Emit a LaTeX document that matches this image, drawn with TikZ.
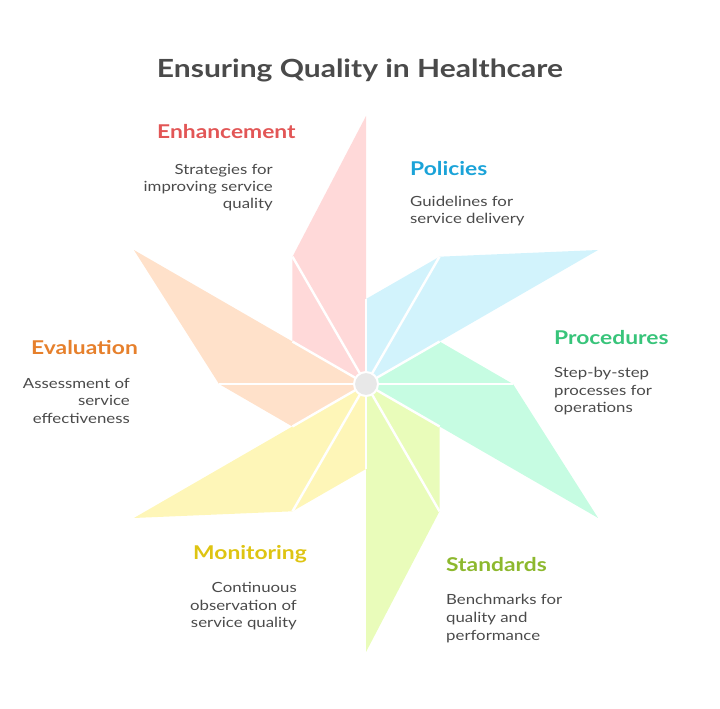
\documentclass[tikz,border=0pt]{standalone}
\usepackage{fontspec}
\setmainfont{Lato}[FakeStretch=1.2]
\definecolor{cpink}{HTML}{FFD9D9}
\definecolor{cblue}{HTML}{D2F3FC}
\definecolor{cgreen}{HTML}{C6FCE2}
\definecolor{clime}{HTML}{E9FCBA}
\definecolor{cyellow}{HTML}{FEF6B8}
\definecolor{cpeach}{HTML}{FFE1CA}
\definecolor{hred}{HTML}{E25656}
\definecolor{hblue}{HTML}{1BA3D8}
\definecolor{hgreen}{HTML}{38C47A}
\definecolor{hlime}{HTML}{8DB82E}
\definecolor{hyellow}{HTML}{DEC412}
\definecolor{horange}{HTML}{E6802C}
\definecolor{txt}{HTML}{4A4A4A}
\definecolor{hubgray}{HTML}{E8E8E8}
\begin{document}
\begin{tikzpicture}[x=1pt,y=1pt,
  titletxt/.style={font=\bfseries\fontsize{25}{25}\selectfont, text=txt, inner sep=0},
  headtxt/.style={font=\bfseries\fontsize{19}{19}\selectfont, inner sep=0},
  desctxt/.style={font=\fontsize{14}{14}\selectfont, text=txt, inner sep=0},
  bladefill/.style={fill=#1},
  sepline/.style={draw=white, line width=2.4pt}]
\useasboundingbox (0,0) rectangle (720,709);
\coordinate (C) at (366,325);
\begin{scope}[shift={(C)}]
\foreach \a/\c in {90/cpink, 30/cblue, -30/cgreen, -90/clime, -150/cyellow, 150/cpeach}{
  \path[bladefill=\c] (0,0) -- (\a:268) -- (\a+30:147) -- (\a+60:85) -- cycle;
}
\foreach \a in {90, 30, -30, -90, -150, 150}{
  \path[sepline] (0,0) -- (\a+30:147);
  \path[sepline] (0,0) -- (\a+60:85);
}
\end{scope}
\node[circle, fill=hubgray, draw=white, line width=2pt, minimum size=24pt, inner sep=0] (hub) at (C) {};
% title
\node[titletxt, anchor=base] (title) at (360,631) {Ensuring Quality in Healthcare};
% Enhancement
\node[headtxt, text=hred, anchor=base west] (enhH) at (157,570) {Enhancement};
\node[desctxt, anchor=base east] (enh1) at (273,534) {Strategies for};
\node[desctxt, anchor=base east] (enh2) at (273,517) {improving service};
\node[desctxt, anchor=base east] (enh3) at (273,500) {quality};
% Policies
\node[headtxt, text=hblue, anchor=base west] (polH) at (410,533) {Policies};
\node[desctxt, anchor=base west] (pol1) at (410,502) {Guidelines for};
\node[desctxt, anchor=base west] (pol2) at (410,485) {service delivery};
% Procedures
\node[headtxt, text=hgreen, anchor=base west] (proH) at (554,364) {Procedures};
\node[desctxt, anchor=base west] (pro1) at (554,331) {Step-by-step};
\node[desctxt, anchor=base west] (pro2) at (554,313) {processes for};
\node[desctxt, anchor=base west] (pro3) at (554,296) {operations};
% Standards
\node[headtxt, text=hlime, anchor=base west] (staH) at (446,137) {Standards};
\node[desctxt, anchor=base west] (sta1) at (446,104) {Benchmarks for};
\node[desctxt, anchor=base west] (sta2) at (446,86) {quality and};
\node[desctxt, anchor=base west] (sta3) at (446,68) {performance};
% Monitoring
\node[headtxt, text=hyellow, anchor=base west] (monH) at (193,149) {Monitoring};
\node[desctxt, anchor=base east] (mon1) at (297,116) {Continuous};
\node[desctxt, anchor=base east] (mon2) at (297,98) {observation of};
\node[desctxt, anchor=base east] (mon3) at (297,81) {service quality};
% Evaluation
\node[headtxt, text=horange, anchor=base west] (evaH) at (31,354) {Evaluation};
\node[desctxt, anchor=base east] (eva1) at (130,320) {Assessment of};
\node[desctxt, anchor=base east] (eva2) at (130,303) {service};
\node[desctxt, anchor=base east] (eva3) at (130,285) {effectiveness};
\end{tikzpicture}
\end{document}
